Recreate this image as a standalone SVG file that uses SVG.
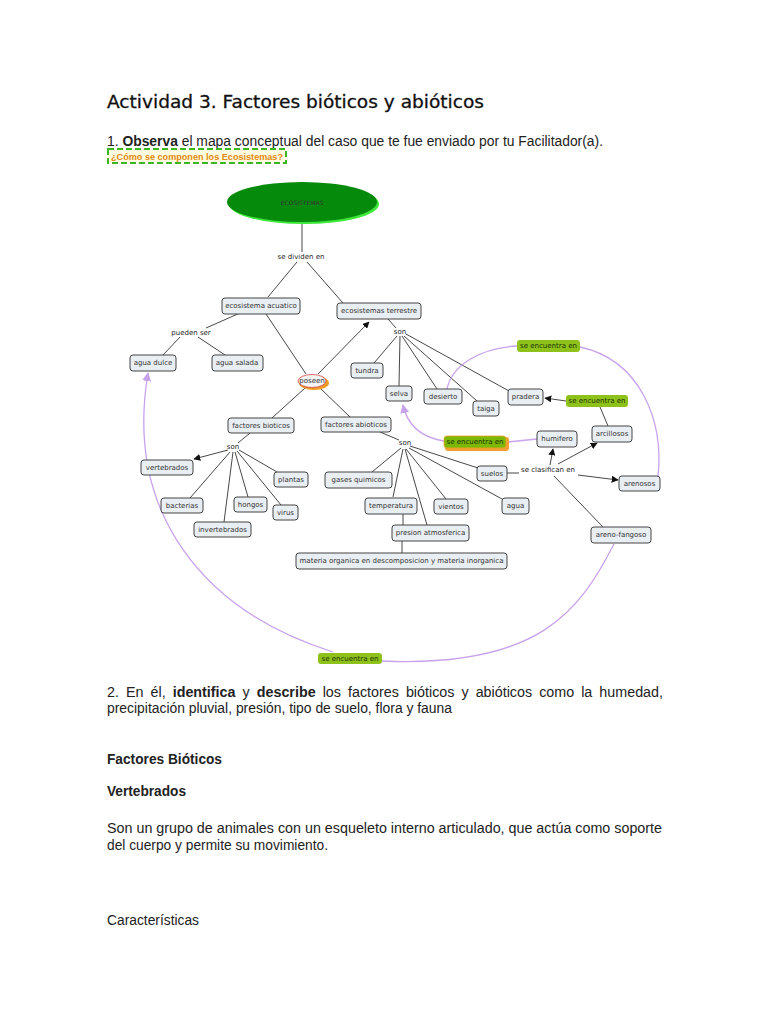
<svg xmlns="http://www.w3.org/2000/svg" width="768" height="1024" viewBox="0 0 768 1024">
<defs>
<marker id="ab" viewBox="0 0 10 10" refX="9" refY="5" markerWidth="7" markerHeight="7" orient="auto" markerUnits="userSpaceOnUse"><path d="M0,0 L10,5 L0,10 z" fill="#111"/></marker>
<marker id="ap" viewBox="0 0 10 10" refX="9" refY="5" markerWidth="9" markerHeight="9" orient="auto" markerUnits="userSpaceOnUse"><path d="M0,0 L10,5 L0,10 z" fill="#c9a2ec"/></marker>
<style>
.doc{font-family:"Liberation Sans",Arial,sans-serif;font-size:14px;fill:#222}
.b{font-weight:bold}
.n rect{fill:#e9eef2;stroke:#444;stroke-width:1}
.t{font-family:"DejaVu Sans",sans-serif;font-size:7px;fill:#333;text-anchor:middle;dominant-baseline:central}
.lt{font-family:"DejaVu Sans",sans-serif;font-size:7px;fill:#222;text-anchor:middle;dominant-baseline:central}
.g rect{fill:#8ec21a;stroke:none}
.gt{font-family:"DejaVu Sans",sans-serif;font-size:7px;fill:#1a3300;text-anchor:middle;dominant-baseline:central}
.ln{stroke:#333;stroke-width:0.9;fill:none}
.pl{stroke:#c9a2ec;stroke-width:1.3;fill:none}
</style>
</defs>
<rect width="768" height="1024" fill="#fff"/>

<text x="107" y="108" font-family="DejaVu Sans,sans-serif" font-size="18" fill="#111" stroke="#111" stroke-width="0.3" textLength="377" lengthAdjust="spacingAndGlyphs">Actividad 3. Factores bióticos y abióticos</text>
<text class="doc" x="107" y="146" textLength="496" lengthAdjust="spacingAndGlyphs">1. <tspan class="b">Observa</tspan> el mapa conceptual del caso que te fue enviado por tu Facilitador(a).</text>
<g id="pregunta">
<rect x="108" y="149" width="178" height="14" fill="#fffbe0" stroke="#3cb521" stroke-width="2" stroke-dasharray="6,3"/>
<text x="111" y="159.5" font-family="Liberation Sans,Arial,sans-serif" font-size="9" font-weight="bold" fill="#e08a10" textLength="172" lengthAdjust="spacingAndGlyphs">¿Cómo se componen los Ecosistemas?</text>
</g>

<g id="connectors">
<line class="ln" x1="302" y1="223" x2="302" y2="252"/>
<line class="ln" x1="297" y1="262" x2="268" y2="297"/>
<line class="ln" x1="307" y1="262" x2="343" y2="303"/>
<line class="ln" x1="240" y1="313" x2="206" y2="328"/>
<line class="ln" x1="180" y1="337" x2="163" y2="355"/>
<line class="ln" x1="198" y1="337" x2="225" y2="355"/>
<line class="ln" x1="266" y1="314" x2="306" y2="374"/>
<line class="ln" x1="318" y1="374" x2="369" y2="322" marker-end="url(#ab)"/>
<line class="ln" x1="388" y1="319" x2="396" y2="328"/>
<line class="ln" x1="397" y1="336" x2="374" y2="363"/>
<line class="ln" x1="400" y1="336" x2="399" y2="386"/>
<line class="ln" x1="402" y1="336" x2="437" y2="389"/>
<line class="ln" x1="404" y1="336" x2="477" y2="401"/>
<line class="ln" x1="406" y1="334" x2="509" y2="391"/>
<line class="ln" x1="305" y1="388" x2="272" y2="418"/>
<line class="ln" x1="320" y1="388" x2="350" y2="417"/>
<line class="ln" x1="250" y1="433" x2="238" y2="443"/>
<line class="ln" x1="228" y1="450" x2="194" y2="459" marker-end="url(#ab)"/>
<line class="ln" x1="230" y1="452" x2="190" y2="498"/>
<line class="ln" x1="233" y1="452" x2="224" y2="522"/>
<line class="ln" x1="235" y1="452" x2="248" y2="497"/>
<line class="ln" x1="237" y1="451" x2="281" y2="505"/>
<line class="ln" x1="239" y1="450" x2="277" y2="472"/>
<line class="ln" x1="380" y1="432" x2="399" y2="440"/>
<line class="ln" x1="401" y1="448" x2="372" y2="472"/>
<line class="ln" x1="403" y1="449" x2="393" y2="497"/>
<line class="ln" x1="405" y1="449" x2="427" y2="525"/>
<line class="ln" x1="406" y1="449" x2="446" y2="499"/>
<line class="ln" x1="409" y1="448" x2="502" y2="499"/>
<line class="ln" x1="410" y1="446" x2="478" y2="468"/>
<line class="ln" x1="403" y1="514" x2="403" y2="525"/>
<line class="ln" x1="402" y1="541" x2="402" y2="553"/>
<line class="ln" x1="507" y1="473" x2="519" y2="473"/>
<line class="ln" x1="550" y1="465" x2="553" y2="449" marker-end="url(#ab)"/>
<line class="ln" x1="558" y1="464" x2="597" y2="443" marker-end="url(#ab)"/>
<line class="ln" x1="578" y1="475" x2="618" y2="480" marker-end="url(#ab)"/>
<line class="ln" x1="554" y1="476" x2="603" y2="527"/>
<line class="ln" x1="608" y1="426" x2="600" y2="407"/>
<line class="ln" x1="566" y1="401" x2="545" y2="398" marker-end="url(#ab)"/>
<line class="pl" x1="537" y1="439" x2="508" y2="442"/>
<path class="pl" d="M444 441 C425 438 408 428 403 405" marker-end="url(#ap)"/>
<path class="pl" d="M447 389 C452 365 480 348 517 346"/>
<path class="pl" d="M580 347 C640 360 664 420 658 477"/>
<path class="pl" d="M614 544 C580 610 540 668 382 661"/>
<path class="pl" d="M333 652 C200 610 125 510 148 373" marker-end="url(#ap)"/>
</g>

<g id="ecosistemas">
<ellipse cx="304" cy="204" rx="75" ry="20" fill="#3ee83a"/>
<ellipse cx="302" cy="202" rx="75" ry="20" fill="#068a0c"/>
<text class="t" x="302" y="202" fill="#0a2a00" style="font-size:6px">ECOSISTEMAS</text>
</g>
<g id="se-dividen-en"><text class="lt" x="301" y="257">se dividen en</text></g>
<g id="pueden-ser"><text class="lt" x="191" y="333">pueden ser</text></g>
<g id="son-terrestre"><text class="lt" x="400" y="332">son</text></g>
<g id="son-bioticos"><text class="lt" x="233" y="447">son</text></g>
<g id="son-abioticos"><text class="lt" x="405" y="443">son</text></g>
<g id="se-clasifican-en"><text class="lt" x="548" y="470">se clasifican en</text></g>

<g id="poseen">
<ellipse cx="314" cy="383" rx="15" ry="7" fill="#f09a28"/>
<ellipse cx="312" cy="381" rx="14" ry="6.5" fill="#f4f4f4" stroke="#d0443a" stroke-width="0.8"/>
<text class="t" x="312" y="381">poseen</text>
</g>

<g id="ecosistema-acuatico" class="n"><rect x="222" y="298" width="78" height="16" rx="3"/><text class="t" x="261" y="306">ecosistema acuatico</text></g>
<g id="ecosistemas-terrestre" class="n"><rect x="337" y="303" width="84" height="16" rx="3"/><text class="t" x="379" y="311">ecosistemas terrestre</text></g>
<g id="agua-dulce" class="n"><rect x="130" y="355" width="46" height="16" rx="3"/><text class="t" x="153" y="363">agua dulce</text></g>
<g id="agua-salada" class="n"><rect x="212" y="355" width="51" height="16" rx="3"/><text class="t" x="237" y="363">agua salada</text></g>
<g id="tundra" class="n"><rect x="351" y="363" width="32" height="15" rx="3"/><text class="t" x="367" y="370.5">tundra</text></g>
<g id="selva" class="n"><rect x="386" y="386" width="26" height="15" rx="3"/><text class="t" x="399" y="393.5">selva</text></g>
<g id="desierto" class="n"><rect x="424" y="389" width="38" height="15" rx="3"/><text class="t" x="443" y="396.5">desierto</text></g>
<g id="taiga" class="n"><rect x="473" y="401" width="26" height="15" rx="3"/><text class="t" x="486" y="408.5">taiga</text></g>
<g id="pradera" class="n"><rect x="508" y="389" width="35" height="16" rx="3"/><text class="t" x="525.5" y="397">pradera</text></g>
<g id="factores-bioticos" class="n"><rect x="228" y="418" width="66" height="15" rx="3"/><text class="t" x="261" y="425.5">factores bioticos</text></g>
<g id="factores-abioticos" class="n"><rect x="321" y="417" width="70" height="15" rx="3"/><text class="t" x="356" y="424.5">factores abioticos</text></g>
<g id="vertebrados" class="n"><rect x="141" y="460" width="52" height="15" rx="3"/><text class="t" x="167" y="467.5">vertebrados</text></g>
<g id="plantas" class="n"><rect x="274" y="472" width="34" height="15" rx="3"/><text class="t" x="291" y="479.5">plantas</text></g>
<g id="bacterias" class="n"><rect x="161" y="498" width="42" height="15" rx="3"/><text class="t" x="182" y="505.5">bacterias</text></g>
<g id="hongos" class="n"><rect x="234" y="497" width="33" height="15" rx="3"/><text class="t" x="250.5" y="504.5">hongos</text></g>
<g id="virus" class="n"><rect x="273" y="505" width="25" height="15" rx="3"/><text class="t" x="285.5" y="512.5">virus</text></g>
<g id="invertebrados" class="n"><rect x="194" y="522" width="57" height="15" rx="3"/><text class="t" x="222.5" y="529.5">invertebrados</text></g>
<g id="gases-quimicos" class="n"><rect x="325" y="472" width="67" height="16" rx="3"/><text class="t" x="358.5" y="480">gases quimicos</text></g>
<g id="temperatura" class="n"><rect x="365" y="498" width="52" height="16" rx="3"/><text class="t" x="391" y="506">temperatura</text></g>
<g id="vientos" class="n"><rect x="434" y="499" width="34" height="15" rx="3"/><text class="t" x="451" y="506.5">vientos</text></g>
<g id="agua" class="n"><rect x="502" y="498" width="27" height="16" rx="3"/><text class="t" x="515.5" y="506">agua</text></g>
<g id="suelos" class="n"><rect x="477" y="466" width="30" height="15" rx="3"/><text class="t" x="492" y="473.5">suelos</text></g>
<g id="presion-atmosferica" class="n"><rect x="392" y="525" width="77" height="16" rx="3"/><text class="t" x="430.5" y="533">presion atmosferica</text></g>
<g id="materia" class="n"><rect x="296" y="553" width="211" height="16" rx="3"/><text class="t" x="401.5" y="561">materia organica en descomposicion y materia inorganica</text></g>
<g id="humifero" class="n"><rect x="537" y="431" width="40" height="16" rx="3"/><text class="t" x="557" y="439">humifero</text></g>
<g id="arcillosos" class="n"><rect x="592" y="426" width="40" height="16" rx="3"/><text class="t" x="612" y="434">arcillosos</text></g>
<g id="arenosos" class="n"><rect x="619" y="476" width="41" height="15" rx="3"/><text class="t" x="639.5" y="483.5">arenosos</text></g>
<g id="areno-fangoso" class="n"><rect x="591" y="527" width="60" height="16" rx="3"/><text class="t" x="621" y="535">areno-fangoso</text></g>

<g id="se-encuentra-en-1" class="g"><rect x="517" y="340" width="63" height="12" rx="3"/><text class="gt" x="548.5" y="346">se encuentra en</text></g>
<g id="se-encuentra-en-2" class="g"><rect x="566" y="395" width="62" height="12" rx="3"/><text class="gt" x="597" y="401">se encuentra en</text></g>
<g id="se-encuentra-en-3"><rect x="445" y="437" width="64" height="14" rx="3" fill="#f0a030"/><rect x="444" y="436" width="62" height="12" rx="3" fill="#7cb800" stroke="#f0a030" stroke-width="0.8"/><text class="gt" x="475" y="442">se encuentra en</text></g>
<g id="se-encuentra-en-4" class="g"><rect x="318" y="653" width="64" height="11" rx="3"/><text class="gt" x="350" y="658.5">se encuentra en</text></g>

<text class="doc" x="107" y="697" word-spacing="3" textLength="556" lengthAdjust="spacingAndGlyphs">2. En él, <tspan class="b">identifica</tspan> y <tspan class="b">describe</tspan> los factores bióticos y abióticos como la humedad,</text>
<text class="doc" x="107" y="713" textLength="345" lengthAdjust="spacingAndGlyphs">precipitación pluvial, presión, tipo de suelo, flora y fauna</text>
<text class="doc b" x="107" y="764" textLength="115" lengthAdjust="spacingAndGlyphs">Factores Bióticos</text>
<text class="doc b" x="107" y="796" textLength="79" lengthAdjust="spacingAndGlyphs">Vertebrados</text>
<text class="doc" x="107" y="833" textLength="555" lengthAdjust="spacingAndGlyphs">Son un grupo de animales con un esqueleto interno articulado, que actúa como soporte</text>
<text class="doc" x="107" y="850" textLength="221" lengthAdjust="spacingAndGlyphs">del cuerpo y permite su movimiento.</text>
<text class="doc" x="107" y="925" textLength="92" lengthAdjust="spacingAndGlyphs">Características</text>
</svg>
